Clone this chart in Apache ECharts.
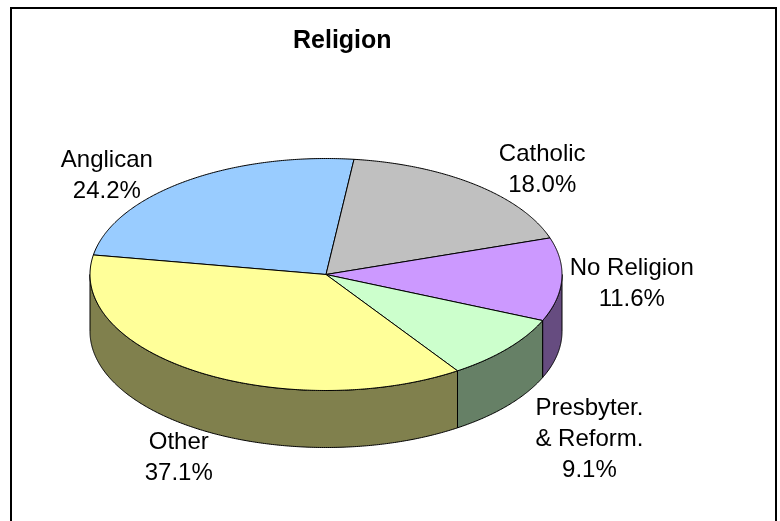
<!DOCTYPE html>
<html><head><meta charset="utf-8">
<script src="https://cdn.jsdelivr.net/npm/echarts@6/dist/echarts.min.js"></script>
<style>html,body{margin:0;padding:0;background:#fff}#c{width:780px;height:521px}</style>
</head><body><div id="c"></div>
<script>
// ---- data ----
const categories = ['Anglican', 'Catholic', 'No Religion', 'Presbyter. & Reform.', 'Other'];
const values = [24.2, 18.0, 11.6, 9.1, 37.1];
const titleText = 'Religion';

// ---- style / layout ----
const topColors = ['#99CCFF', '#C0C0C0', '#CC99FF', '#CCFFCC', '#FFFF99'];
const sideColors = ['#4D6680', '#606060', '#664C80', '#668066', '#80804D'];
const FONT = '"Liberation Sans", Arial, Helvetica, sans-serif';
const CX = 326, CY = 274.5, RX = 236, RY = 116, DEPTH = 57, START = -80.3;
const labelOffsets = [[-78, -6], [67, -15], [70, 4], [82, 34], [-19, 29]];

const total = values.reduce((a, b) => a + b, 0);
function pt(a, dy) {
  const r = a * Math.PI / 180;
  return [CX + RX * Math.sin(r), CY - RY * Math.cos(r) + (dy || 0)];
}
function arc(a1, a2, dy) {
  const n = Math.max(2, Math.ceil(Math.abs(a2 - a1) / 0.5));
  const pts = [];
  for (let i = 0; i <= n; i++) pts.push(pt(a1 + (a2 - a1) * i / n, dy));
  return pts;
}

function renderItem(params, api) {
  const idx = params.dataIndex;
  const v = api.value(1);
  let before = 0;
  for (let i = 0; i < idx; i++) before += values[i];
  const a1 = START + before / total * 360;
  const a2 = a1 + v / total * 360;
  const children = [];
  // side walls (front half only: 90..270 deg clockwise from top)
  for (const k of [-360, 0, 360]) {
    const lo = Math.max(a1, 90 + k), hi = Math.min(a2, 270 + k);
    if (hi > lo) {
      const pts = arc(lo, hi, 0).concat(arc(hi, lo, DEPTH));
      children.push({
        type: 'polygon', z2: 1,
        shape: { points: pts },
        style: { fill: sideColors[idx], stroke: '#000', lineWidth: 1 }
      });
    }
  }
  // top face
  children.push({
    type: 'polygon', z2: 2,
    shape: { points: [[CX, CY]].concat(arc(a1, a2, 0)) },
    style: { fill: topColors[idx], stroke: '#000', lineWidth: 1, lineJoin: 'round' }
  });
  // label
  const mid = (a1 + a2) / 2;
  const front = Math.cos(mid * Math.PI / 180) < 0 && Math.abs(Math.sin(mid * Math.PI / 180)) < 0.99;
  const rim = pt(mid, front ? DEPTH : 0);
  const off = labelOffsets[idx];
  const name = categories[idx].replace(' & ', '\n& ');
  children.push({
    type: 'text', z2: 3,
    x: rim[0] + off[0], y: rim[1] + off[1],
    style: {
      text: name + '\n' + v.toFixed(1) + '%',
      fill: '#000', fontSize: 24, fontFamily: FONT, lineHeight: 31,
      align: 'center', verticalAlign: 'middle'
    }
  });
  return { type: 'group', children };
}

const chart = echarts.init(document.getElementById('c'), null, { renderer: 'canvas' });
chart.setOption({
  animation: false,
  backgroundColor: '#fff',
  title: {
    text: titleText, left: 293, top: 29, padding: 0,
    textStyle: { fontSize: 25, fontWeight: 'bold', fontFamily: FONT, color: '#000' }
  },
  graphic: [{
    type: 'rect', shape: { x: 11, y: 8, width: 765, height: 530 },
    style: { fill: 'none', stroke: '#000', lineWidth: 2 }, silent: true
  }],
  series: [{
    type: 'custom', coordinateSystem: 'none',
    renderItem: renderItem,
    data: values.map((v, i) => [i, v])
  }]
});
</script></body></html>
